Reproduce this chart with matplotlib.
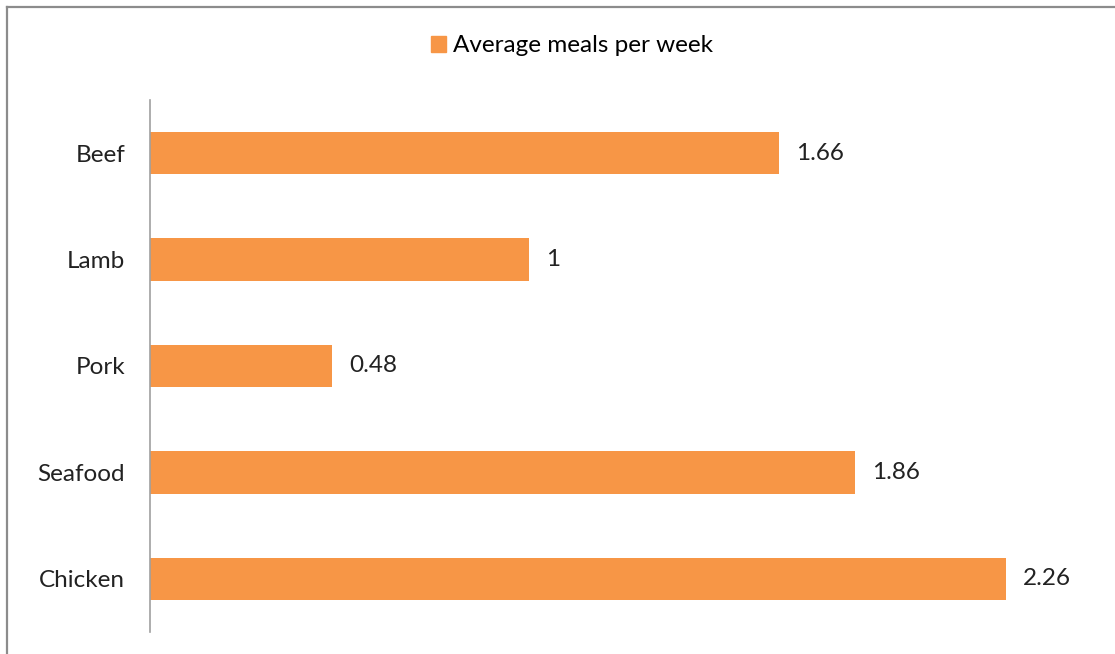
import matplotlib.pyplot as plt
from matplotlib.lines import Line2D
from matplotlib.patches import Patch

plt.rcParams['font.family'] = ['Lato', 'DejaVu Sans']

categories = ["Beef", "Lamb", "Pork", "Seafood", "Chicken"]
values = [1.66, 1, 0.48, 1.86, 2.26]
labels = ["1.66", "1", "0.48", "1.86", "2.26"]
series_name = "Average meals per week"

orange = "#F79646"
fs = 17.5

fig = plt.figure(figsize=(11.15, 6.54), dpi=100)
ax = fig.add_axes([150 / 1115, 1 - 632 / 654, (1097 - 150) / 1115, (632 - 100) / 654])

pos = list(range(len(categories)))
ax.barh(pos, values, height=0.4, color=orange)
ax.set_ylim(len(categories) - 0.5, -0.5)
ax.set_xlim(0, 2.5)
ax.set_yticks(pos)
ax.set_yticklabels(categories, fontsize=fs, color="#222222")
ax.tick_params(axis="y", length=0, pad=18)
ax.set_xticks([])
for s in ["top", "right", "bottom"]:
    ax.spines[s].set_visible(False)
ax.spines["left"].set_color("#A0A0A0")
ax.spines["left"].set_linewidth(1.2)

for p, v, lab in zip(pos, values, labels):
    ax.text(v + 0.045, p, lab, va="center", ha="left", fontsize=fs, color="#222222")

fig.legend(handles=[Patch(color=orange, label=series_name)], loc="center",
           bbox_to_anchor=(572 / 1115, 1 - 46 / 654), frameon=False, fontsize=fs,
           handlelength=0.6, handleheight=0.6, handletextpad=0.3)

# chart border (only top/left visible in crop)
fig.add_artist(Line2D([7 / 1115, 7 / 1115], [0, 1 - 7 / 654], transform=fig.transFigure,
                      color="#8C8C8C", linewidth=1.6))
fig.add_artist(Line2D([7 / 1115, 1], [1 - 7 / 654, 1 - 7 / 654], transform=fig.transFigure,
                      color="#8C8C8C", linewidth=1.6))

fig.savefig("out.png", dpi=100)
